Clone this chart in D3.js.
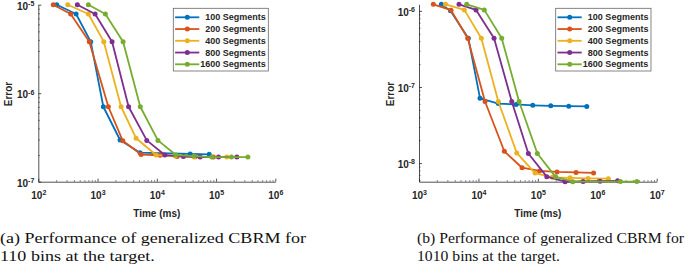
<!DOCTYPE html>
<html>
<head>
<meta charset="utf-8">
<title>CBRM performance</title>
<style>
  body { margin: 0; background: #fff; }
  svg { display: block; }
  .lbl { font-family: "Liberation Sans", Arial, sans-serif; font-weight: bold; fill: #262626; }
  .cap { font-family: "Liberation Serif", "DejaVu Serif", serif; fill: #111; }
</style>
<script src="https://cdn.jsdelivr.net/npm/d3@7"></script>
</head>
<body>
<div id="chart"></div>
<script>
// series shared by both panels
const seriesNames = ["100 Segments", "200 Segments", "400 Segments", "800 Segments", "1600 Segments"];
const seriesColors = ["#0072BD", "#D95319", "#EDB120", "#7E2F8E", "#77AC30"];

// panel (a): 110 bins, time in ms / error
const timeA100 = [205, 434, 767, 1253, 2399, 5224, 36560, 76560];
const errA100  = [1e-5, 7.85e-6, 3.82e-6, 7.03e-7, 2.96e-7, 2.13e-7, 2.06e-7, 2.04e-7];
const timeA200 = [179, 352, 726, 1521, 2667, 5433, 11380, 22030, 44360, 90360];
const errA200  = [1e-5, 7.85e-6, 3.82e-6, 7.03e-7, 2.9e-7, 2.03e-7, 1.99e-7, 1.93e-7, 1.92e-7, 1.9e-7];
const timeA400 = [314, 700, 1274, 2495, 4467, 9727, 20370, 42660, 152000];
const errA400  = [1e-5, 7.85e-6, 3.82e-6, 7.03e-7, 3.1e-7, 2.0e-7, 1.95e-7, 1.9e-7, 1.9e-7];
const timeA800 = [456, 908, 1758, 3342, 6776, 13650, 28100, 53800, 110000, 224500];
const errA800  = [1e-5, 7.85e-6, 3.82e-6, 7.03e-7, 2.93e-7, 2.0e-7, 1.93e-7, 1.9e-7, 1.9e-7, 1.9e-7];
const timeA1600 = [700, 1355, 2698, 5262, 10450, 21040, 42370, 84960, 182000, 344500];
const errA1600  = [1e-5, 7.85e-6, 3.82e-6, 7.03e-7, 2.93e-7, 2.0e-7, 1.95e-7, 1.9e-7, 1.9e-7, 1.9e-7];

// panel (b): 1010 bins
const timeB100 = [2377, 3388, 6761, 10640, 21630, 42950, 82040, 164800, 331100, 665300];
const errB100  = [1.22e-6, 1.0e-6, 4.38e-7, 7.1e-8, 6.05e-8, 5.9e-8, 5.75e-8, 5.65e-8, 5.6e-8, 5.55e-8];
const timeB200 = [1742, 3459, 6607, 12910, 27290, 54200, 106900, 210400, 439500, 866700];
const errB200  = [1.22e-6, 1.02e-6, 4.38e-7, 6.45e-8, 1.43e-8, 8.7e-9, 7.9e-9, 7.65e-9, 7.55e-9, 7.43e-9];
const timeB400 = [2793, 5794, 11190, 21630, 44160, 89740, 175400, 348300, 699800, 1538000];
const errB400  = [1.22e-6, 1.03e-6, 4.38e-7, 6.45e-8, 1.36e-8, 7.4e-9, 6.5e-9, 6.4e-9, 6.3e-9, 6.24e-9];
const timeB800 = [4710, 9120, 18320, 36390, 69180, 141300, 287100, 576800, 1114000, 2198000];
const errB800  = [1.22e-6, 1.03e-6, 4.38e-7, 6.45e-8, 1.34e-8, 6.64e-9, 5.7e-9, 5.75e-9, 5.78e-9, 5.85e-9];
const timeB1600 = [6353, 12560, 24660, 48310, 98170, 198600, 387300, 2449000, 4624000];
const errB1600  = [1.22e-6, 1.03e-6, 4.38e-7, 6.45e-8, 1.34e-8, 6.6e-9, 5.7e-9, 5.72e-9, 5.72e-9];

const xTicksA = [1e2, 1e3, 1e4, 1e5, 1e6];
const yTicksA = [1e-7, 1e-6, 1e-5];
const xTicksB = [1e3, 1e4, 1e5, 1e6, 1e7];
const yTicksB = [1e-8, 1e-7, 1e-6];

const captionA = ["(a) Performance of generalized CBRM for", "110 bins at the target."];
const captionB = ["(b) Performance of generalized CBRM for", "1010 bins at the target."];

function zipSeries(times, errs) {
  return times.map((t, i) => ({
    name: seriesNames[i], color: seriesColors[i],
    values: t.map((v, j) => ({ t: v, e: errs[i][j] }))
  }));
}

const panels = [
  {
    series: zipSeries([timeA100, timeA200, timeA400, timeA800, timeA1600],
                      [errA100, errA200, errA400, errA800, errA1600]),
    xDomain: [1e2, 1e6], yDomain: [1e-7, 1e-5],
    xTicks: xTicksA, yTicks: yTicksA,
    left: 38.3, right: 275.3, top: 4.7, bottom: 181.7,
    legend: { x: 173.3, y: 8.3, w: 95, h: 62.7 },
    ylabelX: 8.5, captionX: 0, captionW: 306, caption: captionA
  },
  {
    series: zipSeries([timeB100, timeB200, timeB400, timeB800, timeB1600],
                      [errB100, errB200, errB400, errB800, errB1600]),
    xDomain: [1e3, 1e7], yDomain: [5.7e-9, 1.22e-6],
    xTicks: xTicksB, yTicks: yTicksB,
    left: 419, right: 656.7, top: 4.3, bottom: 181.7,
    legend: { x: 555.7, y: 8.3, w: 95.3, h: 62.7 },
    ylabelX: 390, captionX: 417, captionW: 267, caption: captionB
  }
];

const svg = d3.select("#chart").append("svg")
  .attr("width", 685).attr("height", 265);

panels.forEach(function(p) {
  const x = d3.scaleLog().domain(p.xDomain).range([p.left, p.right]);
  const y = d3.scaleLog().domain(p.yDomain).range([p.bottom, p.top]);

  const minorX = x.ticks().filter(d => !p.xTicks.includes(d));
  const minorY = y.ticks().filter(d => !p.yTicks.some(m => Math.abs(m - d) / m < 1e-6));

  // minor ticks
  svg.append("g").attr("transform", "translate(0," + p.bottom + ")")
    .call(d3.axisBottom(x).tickValues(minorX).tickSize(-1.6).tickFormat(""))
    .call(g => g.select(".domain").remove())
    .selectAll("line").attr("stroke", "#262626").attr("stroke-width", 0.6);
  svg.append("g").attr("transform", "translate(" + p.left + ",0)")
    .call(d3.axisLeft(y).tickValues(minorY).tickSize(-1.6).tickFormat(""))
    .call(g => g.select(".domain").remove())
    .selectAll("line").attr("stroke", "#262626").attr("stroke-width", 0.6);

  // major axes
  const gx = svg.append("g").attr("transform", "translate(0," + p.bottom + ")")
    .call(d3.axisBottom(x).tickValues(p.xTicks).tickSizeInner(-3).tickSizeOuter(0).tickFormat(""));
  const gy = svg.append("g").attr("transform", "translate(" + p.left + ",0)")
    .call(d3.axisLeft(y).tickValues(p.yTicks).tickSizeInner(-3).tickSizeOuter(0).tickFormat(""));
  [gx, gy].forEach(g => {
    g.select(".domain").attr("stroke", "#262626").attr("stroke-width", 0.8);
    g.selectAll(".tick line").attr("stroke", "#262626").attr("stroke-width", 0.8);
  });

  gx.selectAll(".tick").append("text")
    .attr("class", "lbl").attr("text-anchor", "middle").attr("y", 17.3)
    .attr("font-size", 10)
    .each(function(d) {
      const t = d3.select(this);
      t.append("tspan").text("10");
      t.append("tspan").attr("dy", -4).attr("font-size", 7).text(Math.round(Math.log10(d)));
    });
  gy.selectAll(".tick").append("text")
    .attr("class", "lbl").attr("text-anchor", "end").attr("x", -4).attr("y", 4.4)
    .attr("font-size", 10)
    .each(function(d) {
      const t = d3.select(this);
      t.append("tspan").text("10");
      t.append("tspan").attr("dy", -3.6).attr("font-size", 7).text(Math.round(Math.log10(d)));
    });

  // axis titles
  svg.append("text").attr("class", "lbl").attr("font-size", 10)
    .attr("text-anchor", "middle")
    .attr("x", (p.left + p.right) / 2).attr("y", 216.5)
    .text("Time (ms)");
  svg.append("text").attr("class", "lbl").attr("font-size", 10)
    .attr("text-anchor", "middle")
    .attr("transform", "translate(" + (p.ylabelX + 3.5) + "," + 94 + ") rotate(-90)")
    .text("Error");

  // lines and markers
  const line = d3.line().x(d => x(d.t)).y(d => y(d.e));
  p.series.forEach(function(s) {
    svg.append("path").datum(s.values)
      .attr("fill", "none").attr("stroke", s.color).attr("stroke-width", 1.8)
      .attr("stroke-linejoin", "round")
      .attr("d", line);
    svg.append("g").selectAll("circle").data(s.values).enter().append("circle")
      .attr("cx", d => x(d.t)).attr("cy", d => y(d.e)).attr("r", 2.5)
      .attr("fill", s.color);
  });

  // legend
  const lg = svg.append("g").attr("transform", "translate(" + p.legend.x + "," + p.legend.y + ")");
  lg.append("rect").attr("width", p.legend.w).attr("height", p.legend.h)
    .attr("fill", "#fff").attr("stroke", "#666").attr("stroke-width", 0.8);
  const rowY = d3.scalePoint().domain(seriesNames).range([9, 56]);
  p.series.forEach(function(s) {
    const ry = rowY(s.name);
    lg.append("line").attr("x1", 1.8).attr("x2", 26).attr("y1", ry).attr("y2", ry)
      .attr("stroke", s.color).attr("stroke-width", 1.8);
    lg.append("circle").attr("cx", 14).attr("cy", ry).attr("r", 2.5).attr("fill", s.color);
    lg.append("text").attr("class", "lbl").attr("font-size", 9)
      .attr("text-anchor", "end").attr("x", p.legend.w - 2.6).attr("y", ry + 3.2)
      .attr("fill", "#000")
      .text(s.name);
  });

  // caption: scale horizontally so the first line spans like the reference
  const capTexts = p.caption.map(function(c, i) {
    return svg.append("text").attr("class", "cap").attr("font-size", 15)
      .attr("x", p.captionX).attr("y", 243 + i * 18)
      .text(c);
  });
  const k = p.captionW / capTexts[0].node().getComputedTextLength();
  capTexts.forEach(function(t) {
    t.attr("textLength", t.node().getComputedTextLength() * k)
     .attr("lengthAdjust", "spacingAndGlyphs");
  });
});
</script>
</body>
</html>
